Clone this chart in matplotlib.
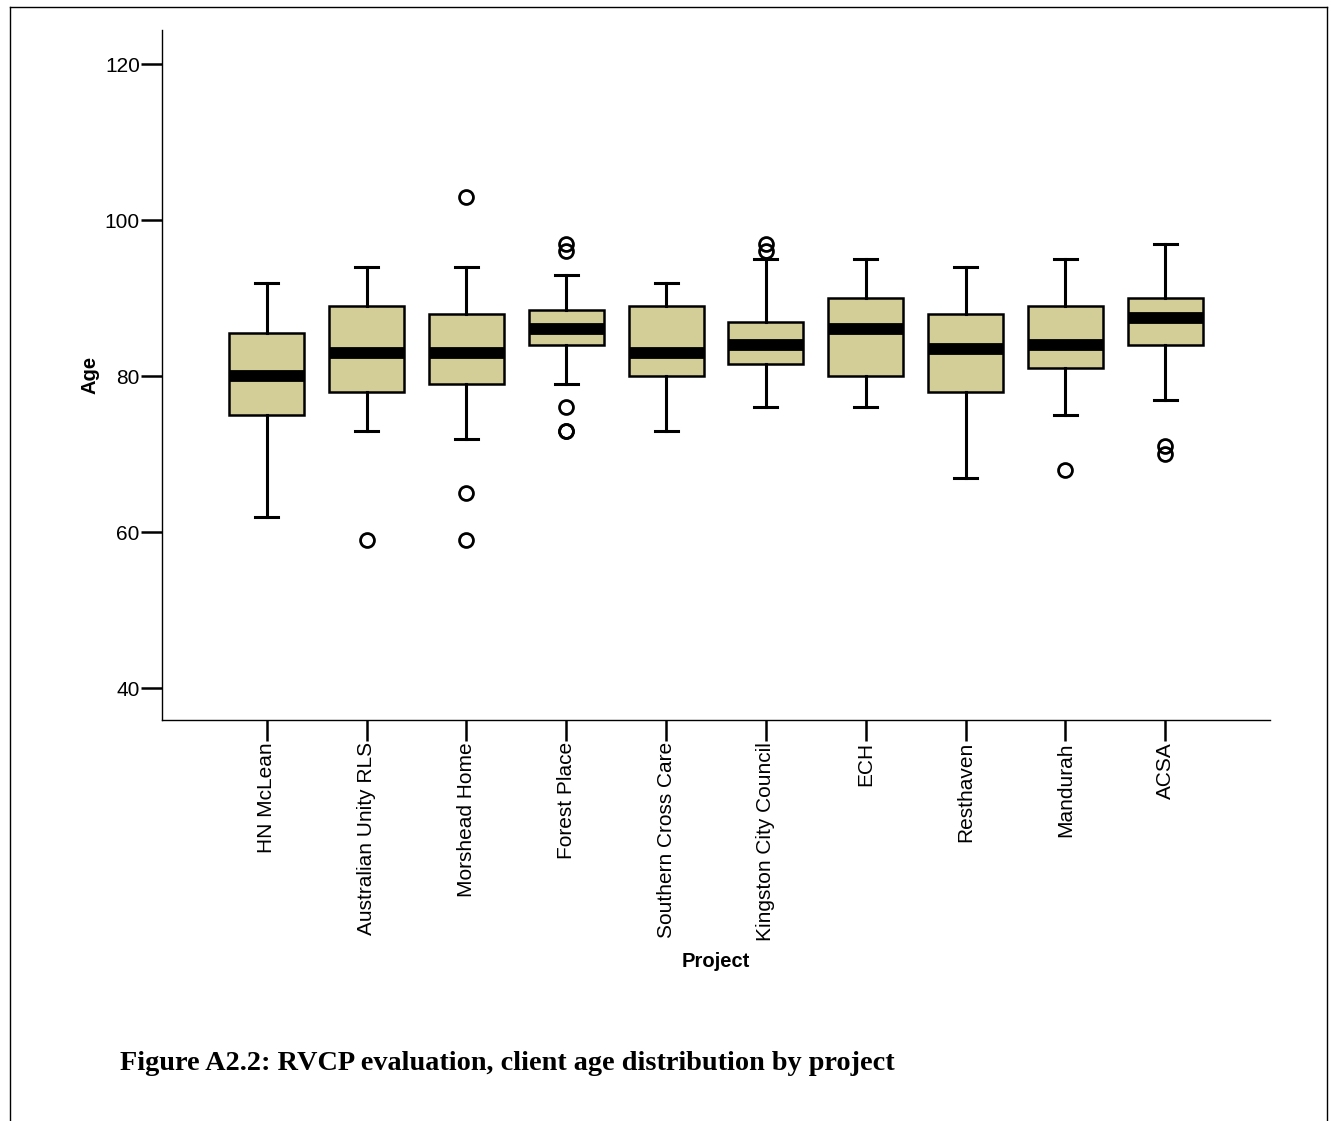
import matplotlib
matplotlib.use("Agg")
import matplotlib.pyplot as plt
from matplotlib.lines import Line2D

# Data (client age by project)
projects = ["HN McLean", "Australian Unity RLS", "Morshead Home", "Forest Place",
            "Southern Cross Care", "Kingston City Council", "ECH", "Resthaven",
            "Mandurah", "ACSA"]
whis_lo = [62, 73, 72, 79, 73, 76, 76, 67, 75, 77]
q1 = [75, 78, 79, 84, 80, 81.5, 80, 78, 81, 84]
medians = [80, 83, 83, 86, 83, 84, 86, 83.5, 84, 87.5]
q3 = [85.5, 89, 88, 88.5, 89, 87, 90, 88, 89, 90]
whis_hi = [92, 94, 94, 93, 92, 95, 95, 94, 95, 97]
outliers = [[], [59], [103, 65, 59], [97, 96, 76, 73, 73], [], [97, 96], [], [], [68], [71, 70]]

y_ticks = [40, 60, 80, 100, 120]

BOX_COLOR = "#D3CE98"
FONT = "Liberation Sans"

fig = plt.figure(figsize=(13.31, 11.21), dpi=100)
ax = fig.add_axes([162 / 1331, 1 - 720 / 1121, (1270 - 162) / 1331, (720 - 30) / 1121])

stats = []
for i, name in enumerate(projects):
    stats.append({
        "label": name,
        "whislo": whis_lo[i],
        "q1": q1[i],
        "med": medians[i],
        "q3": q3[i],
        "whishi": whis_hi[i],
        "fliers": outliers[i],
    })

ax.bxp(
    stats,
    positions=range(len(projects)),
    widths=0.75,
    patch_artist=True,
    showfliers=True,
    boxprops=dict(facecolor=BOX_COLOR, edgecolor="black", linewidth=1.8),
    medianprops=dict(color="black", linewidth=8.5, solid_capstyle="butt"),
    whiskerprops=dict(color="black", linewidth=2.2),
    capprops=dict(color="black", linewidth=2.2),
    capwidths=0.23,
    flierprops=dict(marker="o", markersize=10, markerfacecolor="none",
                    markeredgecolor="black", markeredgewidth=2.0),
)

ax.set_xlim(-1.05, 10.05)
ax.set_ylim(35.9, 124.4)
ax.set_yticks(y_ticks)
ax.set_yticklabels([str(v) for v in y_ticks], fontsize=15, family=FONT)
ax.set_xticks(range(len(projects)))
ax.set_xticklabels(projects, rotation=90, fontsize=15, family=FONT)
ax.tick_params(axis="both", direction="out", length=15, width=1.8, pad=1)

for side in ("top", "right"):
    ax.spines[side].set_visible(False)
for side in ("left", "bottom"):
    ax.spines[side].set_linewidth(1.0)

ax.set_ylabel("Age", fontsize=14.5, fontweight="bold", family=FONT, labelpad=4)
ax.set_xlabel("Project", fontsize=14.5, fontweight="bold", family=FONT, labelpad=8)

# page frame around the figure
fig.add_artist(Line2D([10 / 1331, 1327 / 1331], [1 - 7 / 1121, 1 - 7 / 1121],
                      transform=fig.transFigure, color="black", lw=1.0))
fig.add_artist(Line2D([10 / 1331, 10 / 1331], [0, 1 - 7 / 1121],
                      transform=fig.transFigure, color="black", lw=1.0))
fig.add_artist(Line2D([1327 / 1331, 1327 / 1331], [0, 1 - 7 / 1121],
                      transform=fig.transFigure, color="black", lw=1.0))

fig.text(120 / 1331, 1 - 1063 / 1121,
         "Figure A2.2: RVCP evaluation, client age distribution by project",
         fontsize=20.3, fontweight="bold", family="Liberation Serif",
         ha="left", va="center")

fig.savefig("out.png", dpi=100)
